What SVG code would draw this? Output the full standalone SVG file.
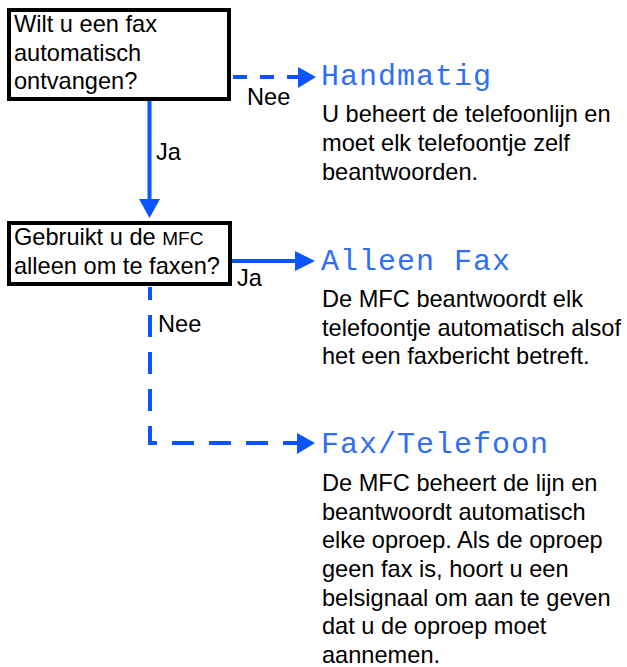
<svg xmlns="http://www.w3.org/2000/svg" width="627" height="667" viewBox="0 0 627 667">
<style>
.box{fill:#fff;stroke:#000;stroke-width:4}
.t{font-family:"Liberation Sans",Arial,sans-serif;font-size:23.6px;fill:#000}
.h{font-family:"Liberation Mono","DejaVu Sans Mono",monospace;font-size:30px;letter-spacing:1px;fill:#2f6ff5}
.c{stroke:#0a55ff;stroke-width:4;fill:none}
.ah{fill:#0a55ff}
</style>
<rect width="627" height="667" fill="#fff"/>
<g id="connectors">
  <line class="c" x1="231" y1="77" x2="298" y2="77" stroke-dasharray="14,13" stroke-dashoffset="-2"/>
  <polygon class="ah" points="298,67 316,77 298,88"/>
  <line class="c" x1="149.5" y1="101" x2="149.5" y2="200"/>
  <polygon class="ah" points="139,199 149.5,218 160,199"/>
  <line class="c" x1="232" y1="261" x2="296" y2="261"/>
  <polygon class="ah" points="295,251 315,261 295,271"/>
  <path class="c" d="M150,286 V443 H297" stroke-dasharray="13,15,22,15,22,15,22,15,24,15,22,15,22,15,22,15,22" stroke-dashoffset="-1"/>
  <polygon class="ah" points="297,433 315,443 297,454"/>
  <text class="t" x="247" y="105">Nee</text>
  <text class="t" x="156" y="160">Ja</text>
  <text class="t" x="237" y="286">Ja</text>
  <text class="t" x="158" y="332">Nee</text>
</g>
<g id="q1">
  <rect class="box" x="9" y="10" width="220" height="89"/>
  <text class="t" x="14" y="32">Wilt u een fax</text>
  <text class="t" x="14" y="61">automatisch</text>
  <text class="t" x="14" y="89">ontvangen?</text>
</g>
<g id="q2">
  <rect class="box" x="9" y="223" width="221" height="61"/>
  <text class="t" x="14" y="245">Gebruikt u de <tspan font-size="19">MFC</tspan></text>
  <text class="t" x="14" y="274">alleen om te faxen?</text>
</g>
<g id="handmatig">
  <text class="h" x="321" y="85">Handmatig</text>
  <text class="t" x="322" y="122">U beheert de telefoonlijn en</text>
  <text class="t" x="322" y="151">moet elk telefoontje zelf</text>
  <text class="t" x="322" y="180">beantwoorden.</text>
</g>
<g id="alleenfax">
  <text class="h" x="321" y="270">Alleen Fax</text>
  <text class="t" x="322" y="307">De MFC beantwoordt elk</text>
  <text class="t" x="322" y="336">telefoontje automatisch alsof</text>
  <text class="t" x="322" y="364">het een faxbericht betreft.</text>
</g>
<g id="faxtelefoon">
  <text class="h" x="321" y="453">Fax/Telefoon</text>
  <text class="t" x="322" y="491">De MFC beheert de lijn en</text>
  <text class="t" x="322" y="520">beantwoordt automatisch</text>
  <text class="t" x="322" y="548">elke oproep. Als de oproep</text>
  <text class="t" x="322" y="577">geen fax is, hoort u een</text>
  <text class="t" x="322" y="606">belsignaal om aan te geven</text>
  <text class="t" x="322" y="634">dat u de oproep moet</text>
  <text class="t" x="322" y="663">aannemen.</text>
</g>
</svg>
